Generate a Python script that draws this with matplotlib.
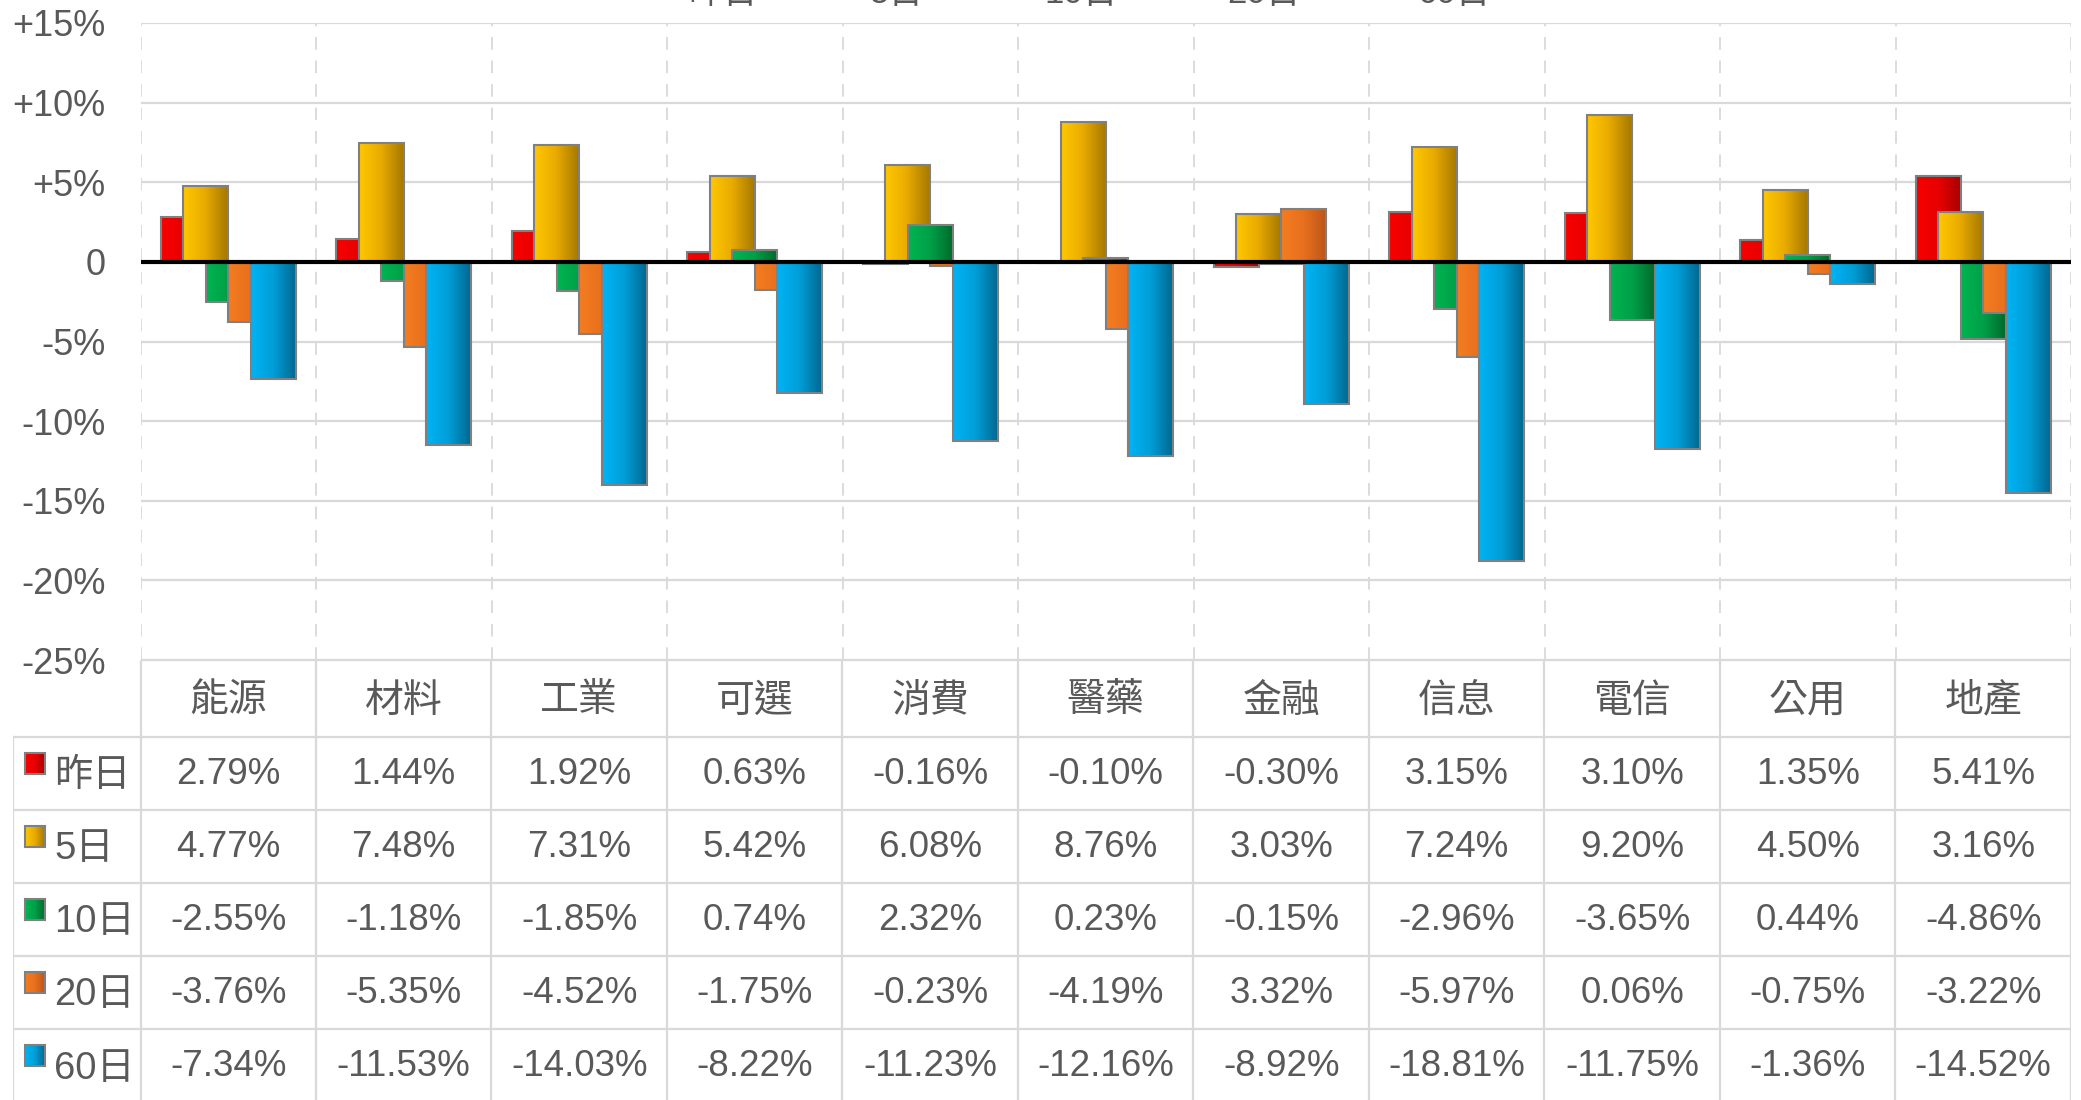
import numpy as np
import matplotlib
matplotlib.use("Agg")
from matplotlib import pyplot as plt
from matplotlib.colors import LinearSegmentedColormap
from matplotlib.patches import Rectangle

plt.rcParams["font.family"] = ["Liberation Sans", "Noto Sans CJK TC"]

# ============
# data
# ============
sectors = ["能源", "材料", "工業", "可選", "消費", "醫藥", "金融", "信息", "電信", "公用", "地產"]
periods = ["昨日", "5日", "10日", "20日", "60日"]
ret_1d = [2.79, 1.44, 1.92, 0.63, -0.16, -0.10, -0.30, 3.15, 3.10, 1.35, 5.41]
ret_5d = [4.77, 7.48, 7.31, 5.42, 6.08, 8.76, 3.03, 7.24, 9.20, 4.50, 3.16]
ret_10d = [-2.55, -1.18, -1.85, 0.74, 2.32, 0.23, -0.15, -2.96, -3.65, 0.44, -4.86]
ret_20d = [-3.76, -5.35, -4.52, -1.75, -0.23, -4.19, 3.32, -5.97, 0.06, -0.75, -3.22]
ret_60d = [-7.34, -11.53, -14.03, -8.22, -11.23, -12.16, -8.92, -18.81, -11.75, -1.36, -14.52]
series = [ret_1d, ret_5d, ret_10d, ret_20d, ret_60d]
y_ticks = [15, 10, 5, 0, -5, -10, -15, -20, -25]

# gradient (left -> right) for each series
grads = [
    ["#F80000", "#E80000", "#A80000"],
    ["#FFC800", "#E8AA00", "#A47800"],
    ["#00B450", "#00A048", "#006A2C"],
    ["#F47C20", "#E8701E", "#BC561A"],
    ["#00B4F4", "#009ED8", "#006890"],
]
cmaps = [LinearSegmentedColormap.from_list("g%d" % i, c) for i, c in enumerate(grads)]
grad_img = np.linspace(0, 1, 128).reshape(1, -1)

TXT = "#595959"
GRID = "#D9D9D9"
EDGE = "#808080"
W, H = 2081, 1100

fig = plt.figure(figsize=(W / 100, H / 100), dpi=100)

# ============
# bar chart
# ============
x_left, x_right = 140.5, 2071
y_top, y_bot = 23, 660
ax = fig.add_axes([x_left / W, 1 - y_bot / H, (x_right - x_left) / W, (y_bot - y_top) / H])

n = len(sectors)
bar_w = 0.256
step = bar_w / 2
for i, vals in enumerate(series):
    for j, v in enumerate(vals):
        xc = j + (i - 2) * step
        x0, x1 = xc - bar_w / 2, xc + bar_w / 2
        ax.imshow(grad_img, cmap=cmaps[i], aspect="auto", interpolation="bilinear",
                  extent=(x0, x1, min(0, v), max(0, v)), zorder=3 + 2 * i)
        ax.add_patch(Rectangle((x0, 0), bar_w, v, facecolor="none", edgecolor=EDGE,
                               linewidth=1.5, zorder=3.5 + 2 * i))

ax.axhline(0, color="black", linewidth=3, zorder=20)
for yv in y_ticks:
    if yv != 0:
        ax.axhline(yv, color=GRID, linewidth=1.6, zorder=1)
for k in range(n + 1):
    ax.axvline(k - 0.5, color=GRID, linewidth=1.3, dashes=(7, 6), zorder=1)

ax.set_xlim(-0.5, n - 0.5)
ax.set_ylim(-25, 15)
ax.set_yticks(y_ticks)
ax.set_yticklabels(["+%d%%" % t if t > 0 else ("0" if t == 0 else "%d%%" % t) for t in y_ticks])
ax.tick_params(axis="y", length=0, pad=25, labelsize=26, labelcolor=TXT)
ax.set_xticks([])
for s in ax.spines.values():
    s.set_visible(False)

# legend (mostly above the picture, as in the source)
leg_x = [688, 870, 1044, 1227, 1417]
for lx, p in zip(leg_x, periods):
    fig.text(lx / W, 1 - 3 / H, p, fontsize=25, color=TXT, ha="left", va="baseline")

# ============
# data table
# ============
t_left = 13
unit = (x_right - x_left) / n
tx0 = -0.5 - (x_left - t_left) / unit
head_h, row_h = 77, 73
t_h = head_h + row_h * len(periods)
tax = fig.add_axes([t_left / W, 1 - (y_bot + t_h) / H, (x_right - t_left) / W, t_h / H])
tax.set_xlim(tx0, n - 0.5)
tax.set_ylim(t_h, 0)
tax.axis("off")

lk = dict(color=GRID, linewidth=1.6, solid_capstyle="butt")
tax.plot([-0.5, n - 0.5], [0, 0], **lk)
for r in range(len(periods) + 1):
    yy = head_h + r * row_h
    tax.plot([tx0, n - 0.5], [yy, yy], **lk)
for k in range(n + 1):
    tax.plot([k - 0.5, k - 0.5], [0, t_h], **lk)
tax.plot([tx0, tx0], [head_h, t_h], **lk)

for j, s in enumerate(sectors):
    tax.text(j, head_h / 2 + 3, s, ha="center", va="center", fontsize=28, color=TXT)

px = 1 / unit
for r, (p, vals) in enumerate(zip(periods, series)):
    top = head_h + r * row_h
    yc = top + row_h / 2
    mx = tx0 + 12 * px
    tax.imshow(grad_img, cmap=cmaps[r], aspect="auto", interpolation="bilinear",
               extent=(mx, mx + 20 * px, top + 37, top + 16), zorder=3)
    tax.add_patch(Rectangle((mx, top + 16), 20 * px, 21, facecolor="none",
                            edgecolor=EDGE, linewidth=1.5, zorder=4))
    tax.text(tx0 + 41 * px, yc + 3, p, ha="left", va="center", fontsize=27.5, color=TXT)
    for j, v in enumerate(vals):
        tax.text(j, yc + 1, "%.2f%%" % v, ha="center", va="center", fontsize=26.5, color=TXT)

tax.set_xlim(tx0, n - 0.5)
tax.set_ylim(t_h, 0)

fig.savefig("out.png", dpi=100)
